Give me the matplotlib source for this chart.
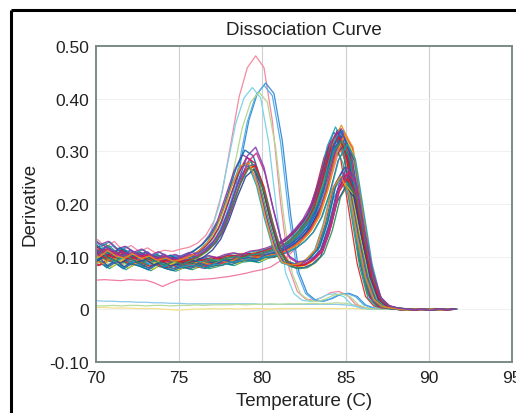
import numpy as np
import matplotlib
matplotlib.use("Agg")
import matplotlib.pyplot as plt
from matplotlib.lines import Line2D

plt.rcParams['font.family'] = ['Liberation Sans', 'DejaVu Sans']

# temperature grid shared by every well (70 .. 91.5 C)
temps = np.arange(70.0, 91.75, 0.5)

# main product, single peak near 85 C (read-off variants)
shape_a = [
    [0.100, 0.108, 0.095, 0.104, 0.092, 0.100, 0.090, 0.097, 0.085, 0.092,
     0.083, 0.088, 0.086, 0.082, 0.090, 0.088, 0.094, 0.096, 0.100, 0.098,
     0.104, 0.106, 0.110, 0.115, 0.124, 0.137, 0.155, 0.185, 0.235, 0.300,
     0.330, 0.300, 0.195, 0.090, 0.025, 0.006, 0.002, 0.001, -0.001, 0.000,
     -0.002, 0.000, -0.001, 0.000],
    [0.092, 0.085, 0.098, 0.090, 0.096, 0.086, 0.093, 0.082, 0.090, 0.080,
     0.087, 0.080, 0.084, 0.088, 0.083, 0.091, 0.088, 0.095, 0.092, 0.099,
     0.097, 0.103, 0.101, 0.109, 0.118, 0.130, 0.148, 0.175, 0.225, 0.290,
     0.330, 0.305, 0.205, 0.095, 0.030, 0.008, 0.003, 0.000, 0.001, -0.002,
     0.000, -0.001, 0.001, -0.001],
    [0.118, 0.105, 0.112, 0.098, 0.107, 0.095, 0.103, 0.100, 0.094, 0.099,
     0.089, 0.095, 0.090, 0.094, 0.092, 0.097, 0.096, 0.101, 0.099, 0.104,
     0.102, 0.108, 0.113, 0.120, 0.130, 0.145, 0.165, 0.195, 0.245, 0.305,
     0.330, 0.295, 0.190, 0.085, 0.022, 0.005, 0.002, 0.000, -0.002, 0.001,
     -0.001, 0.000, -0.002, 0.000],
    [0.085, 0.095, 0.080, 0.090, 0.078, 0.088, 0.083, 0.076, 0.086, 0.079,
     0.075, 0.082, 0.078, 0.085, 0.080, 0.084, 0.090, 0.086, 0.093, 0.095,
     0.092, 0.100, 0.104, 0.112, 0.120, 0.133, 0.150, 0.180, 0.228, 0.295,
     0.330, 0.298, 0.192, 0.088, 0.024, 0.006, 0.002, 0.000, -0.001, 0.000,
     -0.001, 0.000, -0.002, 0.000],
    [0.130, 0.118, 0.124, 0.110, 0.115, 0.104, 0.110, 0.098, 0.105, 0.096,
     0.100, 0.093, 0.097, 0.092, 0.098, 0.094, 0.100, 0.103, 0.100, 0.106,
     0.108, 0.112, 0.118, 0.126, 0.138, 0.155, 0.175, 0.205, 0.255, 0.310,
     0.330, 0.290, 0.185, 0.082, 0.022, 0.005, 0.002, 0.000, -0.002, 0.000,
     -0.001, 0.001, -0.001, 0.000],
]
a_variant = [0, 1, 2, 3, 4, 0, 1, 2, 3, 4, 0, 1, 2, 3, 4, 0, 1, 2,
             3, 4, 0, 1, 2, 3, 4, 0, 1, 2, 3, 4, 0, 1, 2, 3, 4, 0]
a_shift = [-0.80, -0.70, -0.65, -0.60, -0.55, -0.55, -0.50, -0.45, -0.45, -0.40,
           -0.35, -0.35, -0.35, -0.30, -0.30, -0.25, -0.25, -0.20, -0.20, -0.15,
           -0.15, -0.10, -0.10, -0.05, 0.00, 0.05, -0.65, -0.50, -0.35, -0.25,
           -0.15, -0.05, -0.40, -0.30, -0.20, 0.10]
a_scale = [0.96, 1.02, 0.94, 1.05, 0.98, 1.00, 1.03, 0.95, 1.01, 0.99,
           1.04, 0.97, 1.00, 1.02, 0.93, 1.06, 0.98, 1.00, 0.96, 1.03,
           0.99, 1.01, 0.95, 1.00, 0.97, 0.94, 1.00, 1.02, 0.98, 1.04,
           0.96, 1.01, 0.99, 1.03, 0.97, 0.95]

# primer-dimer + product wells, peaks near 79.3 and 85 C
shape_b = [
    [0.105, 0.098, 0.110, 0.100, 0.096, 0.104, 0.095, 0.100, 0.092, 0.096,
     0.090, 0.094, 0.100, 0.110, 0.125, 0.150, 0.190, 0.235, 0.270, 0.275,
     0.235, 0.170, 0.115, 0.088, 0.083, 0.085, 0.095, 0.112, 0.160, 0.225,
     0.250, 0.220, 0.135, 0.060, 0.018, 0.005, 0.002, 0.000, -0.002, 0.000,
     -0.001, 0.000, -0.002, 0.000],
    [0.095, 0.108, 0.100, 0.092, 0.102, 0.094, 0.099, 0.088, 0.095, 0.086,
     0.092, 0.098, 0.096, 0.105, 0.118, 0.140, 0.178, 0.225, 0.265, 0.280,
     0.245, 0.180, 0.122, 0.092, 0.082, 0.083, 0.090, 0.105, 0.150, 0.215,
     0.245, 0.225, 0.140, 0.065, 0.020, 0.006, 0.002, 0.000, -0.001, 0.000,
     -0.002, 0.000, -0.001, 0.000],
    [0.115, 0.102, 0.095, 0.108, 0.098, 0.090, 0.100, 0.093, 0.087, 0.095,
     0.088, 0.096, 0.104, 0.115, 0.132, 0.160, 0.205, 0.250, 0.280, 0.270,
     0.225, 0.160, 0.108, 0.085, 0.080, 0.082, 0.092, 0.110, 0.155, 0.222,
     0.250, 0.218, 0.132, 0.058, 0.017, 0.005, 0.002, 0.000, -0.001, 0.000,
     -0.002, 0.000, -0.001, 0.000],
]
b_variant = [0, 1, 2, 0, 1, 2, 0, 1, 2, 0, 1, 2, 0, 1]
b_shift = [-0.35, -0.25, -0.20, -0.15, -0.10, -0.05, 0.00, 0.00, 0.05, 0.10,
           0.15, 0.20, -0.30, 0.10]
b_scale = [1.00, 0.97, 1.05, 1.02, 0.98, 1.08, 1.00, 0.95, 1.03, 0.99,
           1.06, 0.96, 1.01, 1.10]

# tall single peak near 80 C
shape_c = [0.110, 0.118, 0.105, 0.115, 0.100, 0.108, 0.098, 0.104, 0.095, 0.100,
           0.098, 0.102, 0.105, 0.112, 0.125, 0.150, 0.200, 0.280, 0.360, 0.410,
           0.430, 0.410, 0.320, 0.180, 0.070, 0.030, 0.017, 0.015, 0.020, 0.028,
           0.030, 0.024, 0.008, 0.002, 0.000, 0.000, 0.000, 0.000, 0.000, 0.000,
           0.000, 0.000, 0.000, 0.000]
c_shift = [-0.40, -0.60, 0.20, 0.10, -0.20]
c_scale = [1.12, 0.98, 1.00, 0.99, 0.96]
c_colors = ['#f58aa0', '#7fd3e6', '#3a8fd8', '#5aaee8', '#b5d88f']

# no-template / odd wells
flat_blue = [0.016, 0.015, 0.015, 0.014, 0.014, 0.013, 0.013, 0.012, 0.012, 0.011,
             0.011, 0.010, 0.010, 0.010, 0.010, 0.010, 0.010, 0.010, 0.010, 0.010,
             0.009, 0.009, 0.009, 0.009, 0.009, 0.009, 0.009, 0.009, 0.009, 0.009,
             0.008, 0.006, 0.002, 0.000, 0.000, 0.000, 0.000, 0.000, 0.000, 0.000,
             0.000, 0.000, 0.000, 0.000]
flat_green = [0.006, 0.006, 0.007, 0.006, 0.007, 0.007, 0.006, 0.007, 0.007, 0.006,
              0.007, 0.007, 0.008, 0.007, 0.008, 0.008, 0.008, 0.009, 0.008, 0.009,
              0.009, 0.010, 0.009, 0.010, 0.010, 0.010, 0.011, 0.010, 0.011, 0.012,
              0.011, 0.008, 0.003, 0.001, 0.000, 0.000, 0.000, 0.000, 0.000, 0.000,
              0.000, 0.000, 0.000, 0.000]
flat_yellow = [0.003, 0.003, 0.002, 0.002, 0.002, 0.001, 0.001, 0.001, 0.000, -0.001,
               -0.002, -0.001, 0.000, 0.000, 0.001, 0.000, 0.001, 0.000, 0.001, 0.001,
               0.001, 0.000, 0.001, 0.001, 0.001, 0.001, 0.001, 0.001, 0.001, 0.001,
               0.001, 0.001, 0.000, 0.000, 0.000, 0.000, 0.000, 0.000, 0.000, 0.000,
               0.000, 0.000, 0.000, 0.000]
low_pink = [0.055, 0.056, 0.055, 0.054, 0.056, 0.055, 0.055, 0.050, 0.043, 0.050,
            0.056, 0.055, 0.056, 0.057, 0.058, 0.060, 0.062, 0.065, 0.068, 0.072,
            0.075, 0.080, 0.090, 0.100, 0.115, 0.135, 0.155, 0.185, 0.235, 0.290,
            0.315, 0.290, 0.190, 0.085, 0.025, 0.006, 0.002, 0.000, -0.001, 0.000,
            -0.002, 0.000, -0.001, 0.000]

well_colors = ['#e41a1c', '#1f5fbf', '#1b9e77', '#17a2b8', '#7b3fb5', '#d6267e',
               '#2a3f9a', '#e6c619', '#3fb0e0', '#4d4d5e', '#2e8b57', '#c2185b',
               '#0b6fa4', '#9b2f9e', '#ef3b3b', '#f08c1a']

yticks = [-0.10, 0.0, 0.10, 0.20, 0.30, 0.40, 0.50]
ytick_labels = ['-0.10', '0', '0.10', '0.20', '0.30', '0.40', '0.50']
xticks = [70, 75, 80, 85, 90, 95]

fig = plt.figure(figsize=(5.16, 4.14), dpi=100)
ax = fig.add_axes([0.186, 0.124, 0.806, 0.762])

for xv in xticks[1:-1]:
    ax.axvline(xv, color='#c9d0d6', lw=0.8, zorder=0)
for yv in yticks[1:-1]:
    ax.axhline(yv, color='#f1f1f1', lw=0.8, zorder=0)

ax.plot(temps, flat_blue, color='#8cc8e8', lw=0.9)
ax.plot(temps, flat_green, color='#b8dc9a', lw=0.9)
ax.plot(temps, flat_yellow, color='#f2e08a', lw=0.9)
ax.plot(temps, low_pink, color='#f07ca0', lw=0.9)

for i in range(len(c_shift)):
    ax.plot(temps + c_shift[i], np.array(shape_c) * c_scale[i], color=c_colors[i], lw=0.9)

for i in range(len(a_shift)):
    y = np.array(shape_a[a_variant[i]]) * a_scale[i]
    ax.plot(temps + a_shift[i], y, color=well_colors[i % len(well_colors)], lw=0.9, alpha=0.9)

for i in range(len(b_shift)):
    y = np.array(shape_b[b_variant[i]]) * b_scale[i]
    ax.plot(temps + b_shift[i], y, color=well_colors[(i * 5 + 3) % len(well_colors)], lw=1.0, alpha=0.9)

ax.set_xlim(70, 95)
ax.set_ylim(-0.10, 0.50)
ax.set_xticks(xticks)
ax.set_yticks(yticks)
ax.set_yticklabels(ytick_labels)
ax.tick_params(length=0, labelsize=12.5, colors='#222222')
ax.tick_params(axis='x', pad=6)
ax.tick_params(axis='y', pad=5)
for s in ax.spines.values():
    s.set_color('#7a8a86')
    s.set_linewidth(1.4)

ax.set_title('Dissociation Curve', fontsize=13.5, pad=9, color='#222222')
ax.set_xlabel('Temperature (C)', fontsize=13.5, labelpad=5, color='#222222')
ax.set_ylabel('Derivative', fontsize=13.5, labelpad=8, color='#222222')

# outer picture frame: only its left and top edges fall inside the image
frame_x = 11 / 516
frame_top = 1 - 11 / 414
fig.add_artist(Line2D([frame_x, frame_x], [0.0, frame_top], transform=fig.transFigure,
                      color='black', lw=2.2, solid_capstyle='butt'))
fig.add_artist(Line2D([frame_x, 1.0], [frame_top, frame_top], transform=fig.transFigure,
                      color='black', lw=2.2, solid_capstyle='butt'))

fig.savefig('out.png', dpi=100)
